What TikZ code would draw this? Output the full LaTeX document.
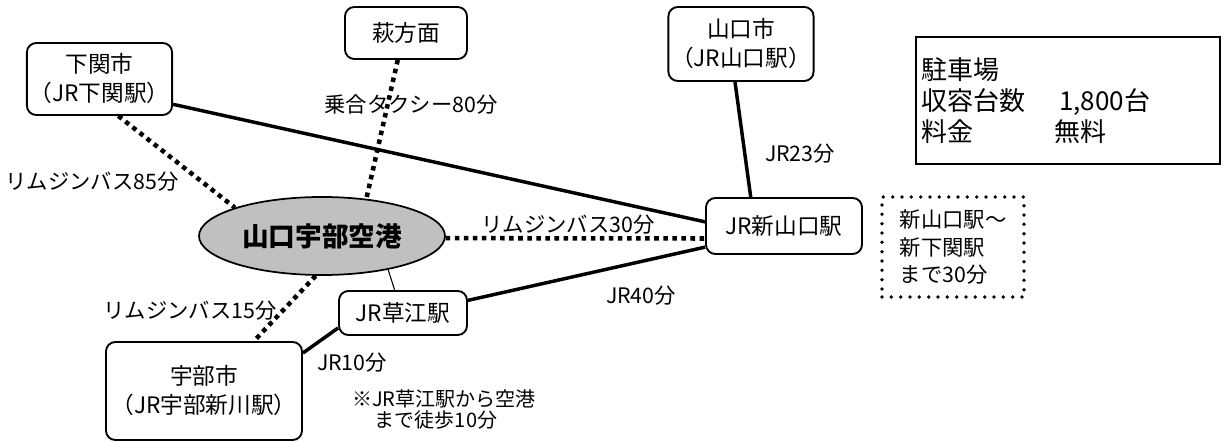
\documentclass[tikz,border=0pt]{standalone}
\usepackage{fontspec}
\setmainfont{Noto Sans CJK JP}
\definecolor{airportgray}{RGB}{192,192,192}
\tikzset{
  city/.style={draw, line width=1.4pt, rounded corners=7pt, inner sep=2pt, align=center, font=\fontsize{17}{21.75}\selectfont},
  airport/.style={draw, ellipse, line width=1.3pt, fill=airportgray, inner sep=1pt, font=\fontsize{20}{24}\selectfont\bfseries},
  infobox/.style={draw, line width=1.4pt, inner xsep=4pt, align=left, font=\fontsize{19.5}{23.25}\selectfont},
  notebox/.style={draw, line width=2.8pt, line cap=round, dash pattern=on 0pt off 7pt, inner sep=2pt, align=left, font=\fontsize{16}{20.6}\selectfont},
  lbl/.style={inner sep=0pt, font=\fontsize{16}{18}\selectfont},
  rail/.style={line width=2.6pt},
  bus/.style={line width=3.4pt, dash pattern=on 3.4pt off 3.4pt},
  walk/.style={line width=0.8pt}
}
\usetikzlibrary{shapes.geometric}

\begin{document}
\begin{tikzpicture}[x=0.75pt,y=-0.75pt]
			%%%%% START %%%%%
			\useasboundingbox (0,0) rectangle (1226,441);
			
			% places
			\node[city, minimum width=105.75pt, minimum height=54pt] (shimonoseki) at (99.5,79) {下関市\\（JR下関駅）};
			\node[city, minimum width=91.5pt, minimum height=39pt] (hagi) at (406,33) {萩方面};
			\node[city, minimum width=108pt, minimum height=55.5pt] (yamaguchi) at (741,44) {山口市\\（JR山口駅）};
			\node[city, minimum width=117pt, minimum height=42pt] (shinyamaguchi) at (784,226) {JR新山口駅};
			\node[city, minimum width=96pt, minimum height=33pt] (kusae) at (403,313) {JR草江駅};
			\node[city, minimum width=147pt, minimum height=73.5pt] (ube) at (204,391) {宇部市\\（JR宇部新川駅）};
			\node[airport, minimum width=184.5pt, minimum height=58.5pt] (airport) at (322,236) {山口宇部空港};
			
			% boxes on the right
			\node[infobox, minimum width=228pt, minimum height=95.25pt, text width=220pt] (parking) at (1068,100.5) {駐車場\\\makebox[103.5pt][l]{収容台数}1,800台\\\makebox[99.75pt][l]{料金}無料};
			\node[notebox, minimum width=106.5pt, minimum height=75pt] (transfer) at (953,247) {新山口駅〜\\新下関駅\\まで30分};
			
			% connectors
			\draw[rail] (shimonoseki.-19) -- (shinyamaguchi.177);
			\draw[bus] (shimonoseki.-63) -- (airport.162);
			\draw[bus] (hagi.-107) -- (airport.40);
			\draw[rail] (yamaguchi.-99) -- (shinyamaguchi.139);
			\draw[bus] (airport.-1.5) -- (shinyamaguchi.189.5);
			\draw[rail] (shinyamaguchi.195) -- (kusae.11);
			\draw[walk] (airport.-27) -- (kusae.110);
			\draw[bus] (airport.-99) -- (ube.45);
			\draw[rail] (kusae.193) -- (ube.21);
			
			% labels
			\node[lbl] (taxilbl) at (411,104) {乗合タクシー80分};
			\node[lbl] (bus85lbl) at (92,182) {リムジンバス85分};
			\node[lbl] (bus30lbl) at (568,225) {リムジンバス30分};
			\node[lbl] (jr23lbl) at (800,154) {JR23分};
			\node[lbl] (jr40lbl) at (641,296) {JR40分};
			\node[lbl] (bus15lbl) at (190,311) {リムジンバス15分};
			\node[lbl] (jr10lbl) at (352,363) {JR10分};
			\node[lbl, align=left, anchor=west, font=\fontsize{15}{15.75}\selectfont] (walknote) at (352,409.5) {※JR草江駅から空港\\\hspace*{17pt}まで徒歩10分};
			
			%%%%% END %%%%%
\end{tikzpicture}
\end{document}
